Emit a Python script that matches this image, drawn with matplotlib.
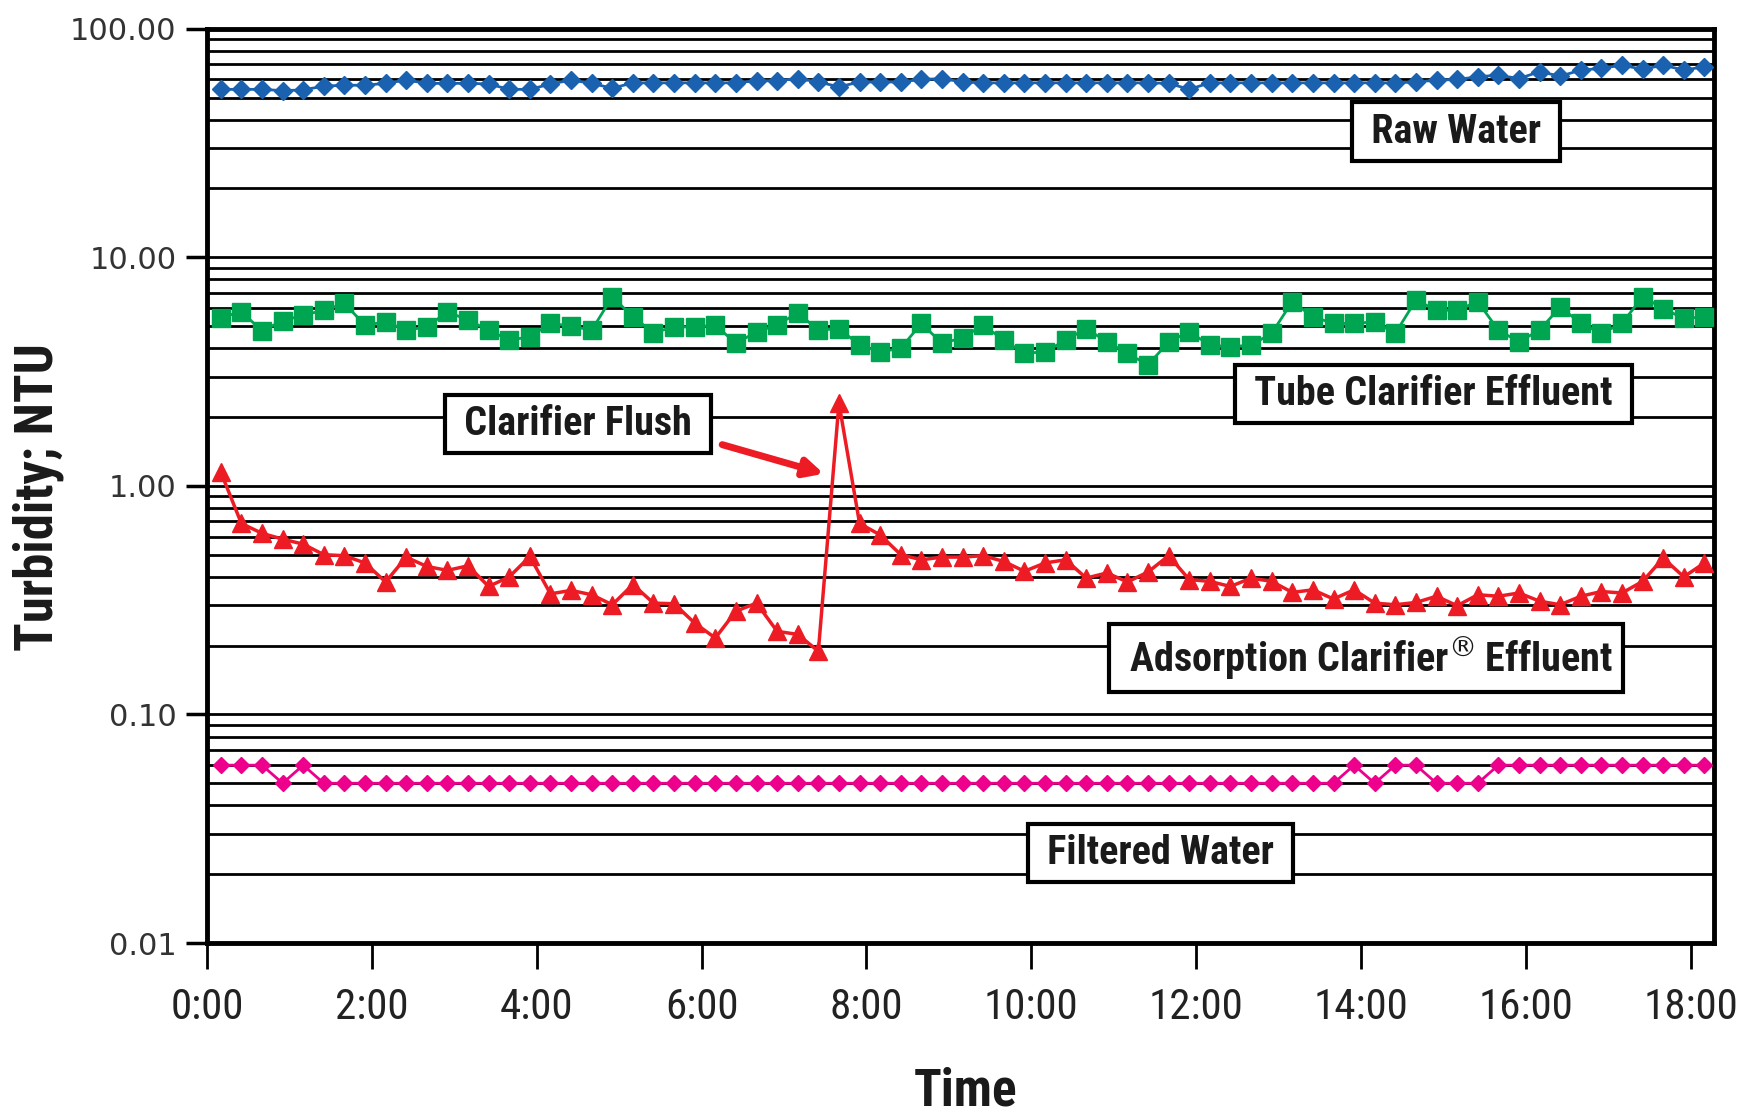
import matplotlib
matplotlib.use('Agg')
import matplotlib.pyplot as plt
from matplotlib import font_manager
from matplotlib.ticker import LogLocator, NullFormatter
import numpy as np

# narrow bold face for the labels: use a condensed family if one is installed
installed = {f.name for f in font_manager.fontManager.ttflist}
LABEL_FONT = next((n for n in ['Liberation Sans Narrow', 'Roboto Condensed',
                               'Open Sans Condensed', 'Roboto'] if n in installed),
                  'DejaVu Sans')
plt.rcParams['font.family'] = [LABEL_FONT, 'DejaVu Sans']

# samples every 15 minutes starting at 0:10
start_min = 10
step_min = 15
n_pts = 73
time_min = start_min + step_min * np.arange(n_pts)

raw_water = [54.3, 54.3, 54.3, 53.6, 54.0, 56.1, 56.6, 56.6, 57.7, 59.6,
             57.7, 57.7, 57.7, 57.3, 54.3, 54.3, 57.3, 59.6, 57.7, 54.9,
             58.0, 58.0, 58.0, 58.0, 58.0, 58.0, 59.2, 59.2, 60.5, 58.5,
             55.7, 58.5, 58.5, 58.5, 60.0, 60.5, 58.5,
             58, 58, 58, 58, 58, 58, 58, 58, 58, 57.7,
             54.3, 58, 58, 58, 58, 58, 58, 58, 58, 58,
             58, 58.5, 59.6, 60, 61.6, 62.7, 60.5, 64.9, 62, 65.9,
             67.1, 69.3, 66.4, 69.3, 65.9, 68.2]

tube_clarifier = [5.45, 5.78, 4.77, 5.28, 5.58, 5.87, 6.28, 5.05, 5.22, 4.80,
                  4.96, 5.78, 5.31, 4.80, 4.34, 4.49, 5.14, 5.00, 4.80, 6.72,
                  5.49, 4.68, 4.96, 4.96, 5.05, 4.20, 4.72, 5.05, 5.72, 4.80,
                  4.88, 4.13, 3.86, 4.00, 5.14, 4.20, 4.45,
                  5.05, 4.34, 3.80, 3.86, 4.34, 4.88, 4.27, 3.80, 3.38, 4.27,
                  4.72, 4.13, 4.06, 4.13, 4.65, 6.40, 5.49, 5.14, 5.14, 5.22,
                  4.65, 6.50, 5.87, 5.87, 6.40, 4.80, 4.27, 4.80, 6.07, 5.14,
                  4.65, 5.14, 6.72, 5.97, 5.40, 5.49]

adsorption_clarifier = [1.15, 0.685, 0.62, 0.585, 0.556, 0.50, 0.495, 0.46, 0.38, 0.488,
                        0.444, 0.427, 0.447, 0.363, 0.40, 0.491, 0.337, 0.349, 0.334, 0.302,
                        0.37, 0.307, 0.305, 0.251, 0.216, 0.283, 0.307, 0.231, 0.224, 0.189,
                        2.3, 0.685, 0.61, 0.50, 0.475, 0.488, 0.488,
                        0.495, 0.467, 0.423, 0.46, 0.475, 0.395, 0.416, 0.38, 0.42, 0.495,
                        0.389, 0.382, 0.363, 0.395, 0.382, 0.342, 0.351, 0.32, 0.351, 0.307,
                        0.302, 0.309, 0.329, 0.299, 0.334, 0.329, 0.34, 0.313, 0.302, 0.329,
                        0.345, 0.34, 0.382, 0.483, 0.40, 0.46]

filtered_water = [0.06, 0.06, 0.06, 0.05, 0.06] + [0.05] * 50 + \
                 [0.06, 0.05, 0.06, 0.06, 0.05, 0.05, 0.05] + [0.06] * 11

tick_hours = [0, 2, 4, 6, 8, 10, 12, 14, 16, 18]
y_ticks = [0.01, 0.1, 1, 10, 100]
y_ticklabels = ['0.01', '0.10', '1.00', '10.00', '100.00']

BLUE = '#1a62b0'
GREEN = '#00a551'
RED = '#ed1c24'
PINK = '#ec008c'
INK = '#1a1a1a'

fig = plt.figure(figsize=(17.56, 11.18), dpi=100)
ax = fig.add_axes([0.1179, 0.1565, 0.8582, 0.8178])

ax.set_yscale('log')
ax.set_ylim(0.01, 100)
ax.set_xlim(0, 1097)

ax.yaxis.set_minor_locator(LogLocator(base=10, subs=np.arange(2, 10)))
ax.yaxis.set_minor_formatter(NullFormatter())
ax.set_yticks(y_ticks)
ax.set_yticklabels(y_ticklabels, family='DejaVu Sans', fontsize=22, color='#333333')
ax.set_xticks([h * 60 for h in tick_hours])
ax.set_xticklabels(['%d:00' % h for h in tick_hours], fontsize=31, color='#222222')

ax.tick_params(axis='y', which='major', direction='out', length=15, width=2.5, pad=7)
ax.tick_params(axis='y', which='minor', length=0)
ax.tick_params(axis='x', which='major', direction='out', length=19, width=2, pad=13)

ax.yaxis.grid(True, which='both', color='black', lw=2, zorder=0)
for s in ax.spines.values():
    s.set_linewidth(3.5)

ax.plot(time_min, raw_water, color=BLUE, marker='D', ms=9, lw=2, zorder=3)
ax.plot(time_min, tube_clarifier, color=GREEN, marker='s', ms=12.5, lw=2, zorder=3)
ax.plot(time_min, adsorption_clarifier, color=RED, marker='^', ms=12.5, lw=2.5, zorder=3)
ax.plot(time_min, filtered_water, color=PINK, marker='D', ms=8.5, lw=2, zorder=3)

box = dict(boxstyle='square,pad=0.25', facecolor='white', edgecolor='black', lw=3)
label_kw = dict(fontsize=29, fontweight='bold', ha='center', va='center',
                color=INK, bbox=box, zorder=5)
ax.text(909, 35.5, ' Raw Water ', **label_kw)
ax.text(893, 2.53, ' Tube Clarifier Effluent ', **label_kw)
ax.text(270, 1.87, ' Clarifier Flush ', **label_kw)
ax.text(844, 0.177, r' Adsorption Clarifier$^{\circledR}\,$Effluent ', **label_kw)
ax.text(694, 0.0248, ' Filtered Water ', **label_kw)

ax.annotate('', xy=(449, 1.13), xytext=(375, 1.515),
            arrowprops=dict(arrowstyle='-|>,head_length=1.1,head_width=0.55',
                            color=RED, lw=5, shrinkA=0, shrinkB=0), zorder=4)

fig.text(966 / 1756, 1 - 1092 / 1118, 'Time', fontsize=37, fontweight='bold',
         ha='center', va='center', color=INK)
fig.text(38 / 1756, 1 - 497 / 1118, 'Turbidity; NTU', fontsize=38, fontweight='bold',
         rotation=90, ha='center', va='center', color=INK)

fig.savefig('out.png', dpi=100)
